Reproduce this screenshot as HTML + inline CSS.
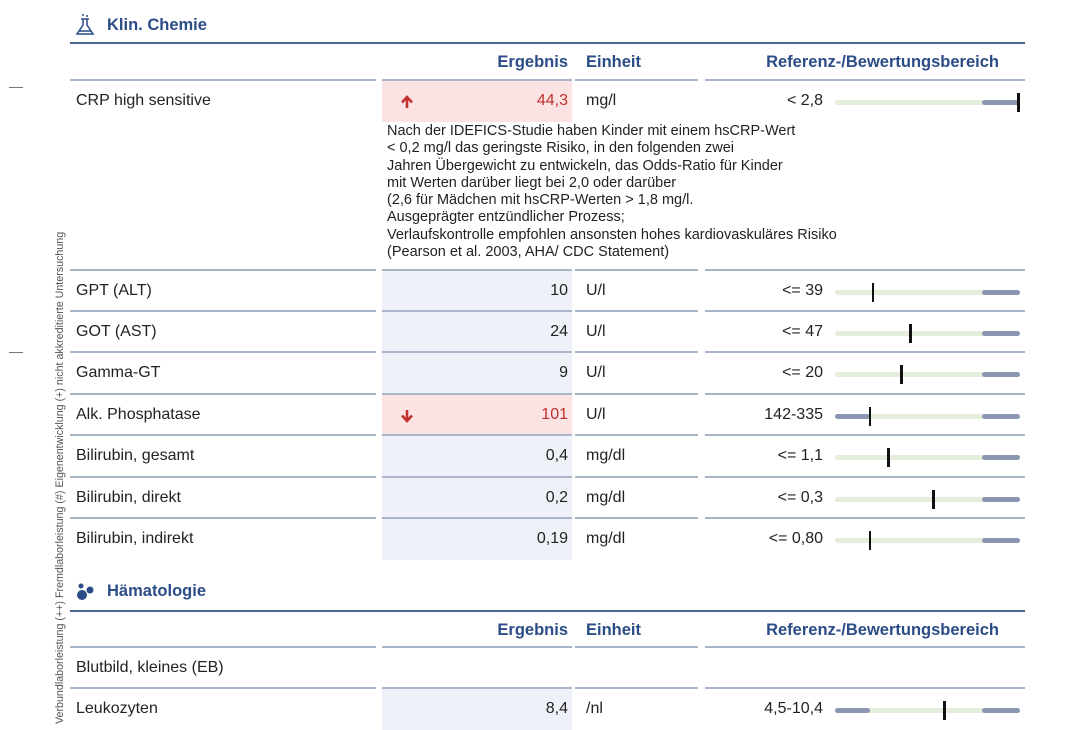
<!DOCTYPE html>
<html><head><meta charset="utf-8">
<style>
body{margin:0;width:1080px;height:725px;background:#fff;overflow:hidden;position:relative;font-family:"Liberation Sans",Arial,sans-serif;color:#222}
.a{position:absolute}
.ttl{color:#2b4c86;font-weight:bold;font-size:16.5px}
.hd{color:#2b4c86;font-weight:bold;font-size:16.5px}
.ln{position:absolute;height:2px;background:#a9b5c8}
.tl{position:absolute;height:2px;background:#4a6794}
.lbl{font-size:16px}
.note{font-size:14.5px;line-height:17.3px;color:#222}
</style></head><body>
<div class="a" style="left:9px;top:87px;width:14px;height:1px;background:#777"></div>
<div class="a" style="left:9px;top:352px;width:14px;height:1px;background:#777"></div>
<div class="a" style="left:54px;top:724px;transform-origin:0 0;transform:rotate(-90deg);font-size:10.7px;color:#555;white-space:nowrap">Verbundlaborleistung (++) Fremdlaborleistung (#) Eigenentwicklung (+) nicht akkreditierte Untersuchung</div>

<svg class="a" style="left:74px;top:13px" width="22" height="24" viewBox="0 0 22 24"><path d="M7 6h8M9 6v6l-6 9h16l-6-9V6M5 18h12" fill="none" stroke="#2b4c86" stroke-width="1.5"/><circle cx="9" cy="2" r="1" fill="#2b4c86"/><circle cx="13" cy="3" r="1" fill="#2b4c86"/></svg>
<div class="a ttl" style="left:107px;top:16px">Klin. Chemie</div>
<div class="tl" style="left:70px;top:42px;width:955px"></div>
<div class="a hd" style="left:382px;width:186px;text-align:right;top:53px">Ergebnis</div>
<div class="a hd" style="left:586px;top:53px">Einheit</div>
<div class="a hd" style="left:705px;width:294px;text-align:right;top:53px">Referenz-/Bewertungsbereich</div>

<svg class="a" style="left:76px;top:582px" width="20" height="20"><circle cx="5" cy="4" r="2.5" fill="#2b4c86"/><circle cx="6" cy="13" r="5" fill="#2b4c86"/><circle cx="14" cy="8" r="3.5" fill="#2b4c86"/></svg>
<div class="a ttl" style="left:107px;top:582px">Hämatologie</div>
<div class="tl" style="left:70px;top:610px;width:955px"></div>
<div class="a hd" style="left:382px;width:186px;text-align:right;top:621px">Ergebnis</div>
<div class="a hd" style="left:586px;top:621px">Einheit</div>
<div class="a hd" style="left:705px;width:294px;text-align:right;top:621px">Referenz-/Bewertungsbereich</div>

<div class="a note" style="left:387px;top:123px;white-space:nowrap">Nach der IDEFICS-Studie haben Kinder mit einem hsCRP-Wert<br>&lt; 0,2 mg/l das geringste Risiko, in den folgenden zwei<br>Jahren Übergewicht zu entwickeln, das Odds-Ratio für Kinder<br>mit Werten darüber liegt bei 2,0 oder darüber<br>(2,6 für Mädchen mit hsCRP-Werten &gt; 1,8 mg/l.<br>Ausgeprägter entzündlicher Prozess;<br>Verlaufskontrolle empfohlen ansonsten hohes kardiovaskuläres Risiko<br>(Pearson et al. 2003, AHA/ CDC Statement)</div>

<script>
const names=["CRP high sensitive","GPT (ALT)","GOT (AST)","Gamma-GT","Alk. Phosphatase","Bilirubin, gesamt","Bilirubin, direkt","Bilirubin, indirekt","Blutbild, kleines (EB)","Leukozyten"];
const values=[44.3,10,24,9,101,0.4,0.2,0.19,null,8.4];
const valueLabels=["44,3","10","24","9","101","0,4","0,2","0,19","","8,4"];
const units=["mg/l","U/l","U/l","U/l","U/l","mg/dl","mg/dl","mg/dl","","/nl"];
const refLabels=["< 2,8","<= 39","<= 47","<= 20","142-335","<= 1,1","<= 0,3","<= 0,80","","4,5-10,4"];
const refMin=[null,null,null,null,142,null,null,null,null,4.5];
const refMax=[2.8,39,47,20,335,1.1,0.3,0.8,null,10.4];
const flags=["high","","","","low","","","","",""];
const rowTops=[81,271,312,353,395,436,478,519,648,689];
const B=document.body;
function mk(cls,css,txt){const d=document.createElement('div');d.className=cls;d.style.cssText=css;if(txt!==undefined)d.textContent=txt;B.appendChild(d);return d;}
function xScale(i){const v=values[i],lo=refMin[i],hi=refMax[i];
  const x0=835,xl=870,xh=982,x1=1018;
  if(lo===null){ if(v>hi) return Math.min(x1,xh+(v-hi)/hi*36); return x0+(v/hi)*(xh-x0);}
  if(v<lo) return x0+(v/lo)*(xl-x0)+10;
  if(v>hi) return Math.min(x1,xh+(v-hi)/hi*36);
  return xl+(v-lo)/(hi-lo)*(xh-xl);}
names.forEach((n,i)=>{
  const t=rowTops[i],h=41,cy=t+h/2;
  const hasVal=values[i]!==null;
  [[70,306],[382,190],[575,123],[705,320]].forEach(s=>{
    const l=mk('ln',`left:${s[0]}px;top:${t-2}px;width:${s[1]}px`);
    
    
  });
  const lab=mk('a lbl',`left:76px;top:${cy-10}px`,n);
  
  
  if(!hasVal) return;
  const bg=flags[i]?'#fbe3e3':'#eef1f7';
  const cell=mk('a',`left:382px;top:${t}px;width:190px;height:${h}px;background:${bg}`);
  
  
  if(flags[i]){
    const ar=document.createElementNS('http://www.w3.org/2000/svg','svg');
    ar.setAttribute('width','14');ar.setAttribute('height','14');
    ar.setAttribute('class','a');
    ar.style.cssText=`left:400px;top:${cy-7}px`;
    ar.innerHTML=flags[i]==='high'
      ?'<path d="M7 13V3M2 7.5L7 2l5 5.5" fill="none" stroke="#c0302c" stroke-width="2.6"/>'
      :'<path d="M7 1v10M2 6.5L7 12l5-5.5" fill="none" stroke="#c0302c" stroke-width="2.6"/>';
    
    
    B.appendChild(ar);
  }
  const val=mk('a lbl',`left:382px;width:186px;text-align:right;top:${cy-10}px;color:${flags[i]?'#c0302c':'#222'}`,valueLabels[i]);
  
  
  const un=mk('a lbl',`left:586px;top:${cy-10}px`,units[i]);
  
  
  const rf=mk('a lbl',`left:705px;width:118px;text-align:right;top:${cy-10}px`,refLabels[i]);
  
  
  const g=mk('a',`left:835px;top:${cy-2}px;width:185px;height:5px;border-radius:3px;background:#e5eddb`);
  
  
  const hb=mk('a',`left:982px;top:${cy-2}px;width:38px;height:5px;border-radius:3px;background:#8b96b3`);
  
  
  if(refMin[i]!==null){
    const lb=mk('a',`left:835px;top:${cy-2}px;width:35px;height:5px;border-radius:3px;background:#8b96b3`);
    
    
  }
  const m=mk('a',`left:${xScale(i)-1}px;top:${cy-9}px;width:2.5px;height:19px;background:#111`);
  
  
});
</script>
</body></html>
